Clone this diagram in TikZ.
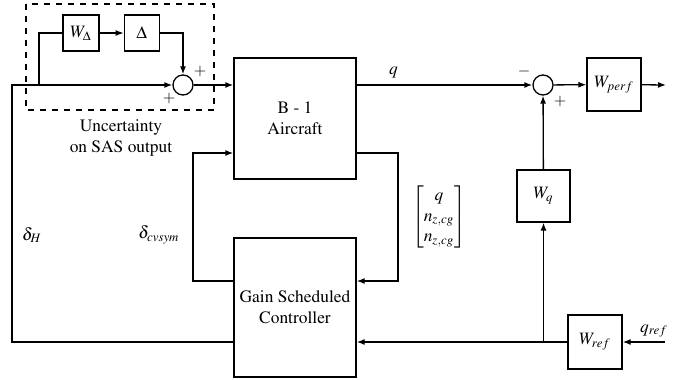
\documentclass[tikz,border=0pt]{standalone}
\usepackage{amsmath}
\usepackage[T1]{fontenc}
\usepackage{mathptmx}
\usetikzlibrary{positioning,arrows.meta}

\begin{document}
\begin{tikzpicture}[
		x=0.5pt, y=-0.5pt, line width=0.65pt,
		every node/.style={font=\fontsize{8.7}{10.4}\selectfont},
		block/.style={draw, rectangle, inner sep=0pt, align=center},
		sumnode/.style={draw, circle, minimum size=10pt, inner sep=0pt},
		sign/.style={font=\fontsize{8}{9}\selectfont, inner sep=0pt},
		arrow/.style={-{Latex[length=4pt,width=3pt]}}
	]
	\useasboundingbox (0,0) rectangle (688,379);

	% uncertainty on SAS output
	\draw[dashed] (26,4) rectangle (214,110);
	\node[block, minimum width=18pt, minimum height=18pt] (wd) at (81,33) {$W_\Delta$};
	\node[block, minimum width=17.5pt, minimum height=18pt, right=12pt of wd] (dl) {$\Delta$};
	\node[sumnode] (s1) at (183,85) {};
	\node[align=center] (unc) at (121,138) {Uncertainty\\on SAS output};

	% plant and controller
	\node[block, minimum width=61pt, minimum height=60.5pt] (ac) at (295,118.5) {B - 1\\Aircraft};
	\node[block, minimum width=61pt, minimum height=69.5pt] (gsc) at (295,307.5) {Gain Scheduled\\Controller};

	% weights
	\node[sumnode] (s2) at (543,85) {};
	\node[block, minimum width=27pt, minimum height=26.5pt] (wp) at (614,84.5) {$W_{perf}$};
	\node[block, minimum width=26.5pt, minimum height=26pt] (wq) at (543.5,196) {$W_q$};
	\node[block, minimum width=27pt, minimum height=27pt] (wr) at (595,342) {$W_{ref}$};

	\coordinate (lt) at (12,85);
	\coordinate (lb) at (12,342);
	\coordinate (br) at (39,85);
	\coordinate (fl) at (193,281);
	\coordinate (ft) at (193,153);
	\coordinate (frt) at (398,153);
	\coordinate (frb) at (398,281);
	\coordinate (out) at (666,85);
	\coordinate (qin) at (665,342);

	\draw[arrow] (gsc.west |- lb) -- (lb) -- (lt) -- (s1);
	\draw (br) |- (wd);
	\draw[arrow] (wd) -- (dl);
	\draw[arrow] (dl) -| (s1);
	\draw[arrow] (s1) -- (s1 -| ac.west);
	\draw[arrow] (ac.east |- s2) -- node[above, pos=0.21] (ql) {$q$} (s2);
	\draw[arrow] (s2) -- (wp);
	\draw[arrow] (wp) -- (out);
	\draw[arrow] (ac.east |- frt) -- (frt) -- (frb) -- (gsc.east |- frb);
	\draw[arrow] (gsc.west |- fl) -- (fl) -- (ft) -- (ac.west |- ft);
	\draw[arrow] (qin) -- (wr);
	\draw[arrow] (wr) -- (gsc.east |- wr);
	\draw[arrow] (wq.south |- wr) -- (wq);
	\draw[arrow] (wq) -- (s2);

	% signs and signal names
	\node[sign] (p1) at (200,72) {$+$};
	\node[sign] (p2) at (169,99) {$+$};
	\node[sign] (m1) at (524,72) {$-$};
	\node[sign] (p3) at (560,102) {$+$};
	\node (dh) at (32,235) {$\delta_H$};
	\node (dcv) at (159,235) {$\delta_{cvsym}$};
	\node (yv) at (439,217) {$\begin{bmatrix} q\\ n_{z,cg}\\ n_{z,cg}\end{bmatrix}$};
	\node (qr) at (654,331) {$q_{ref}$};
\end{tikzpicture}
\end{document}
